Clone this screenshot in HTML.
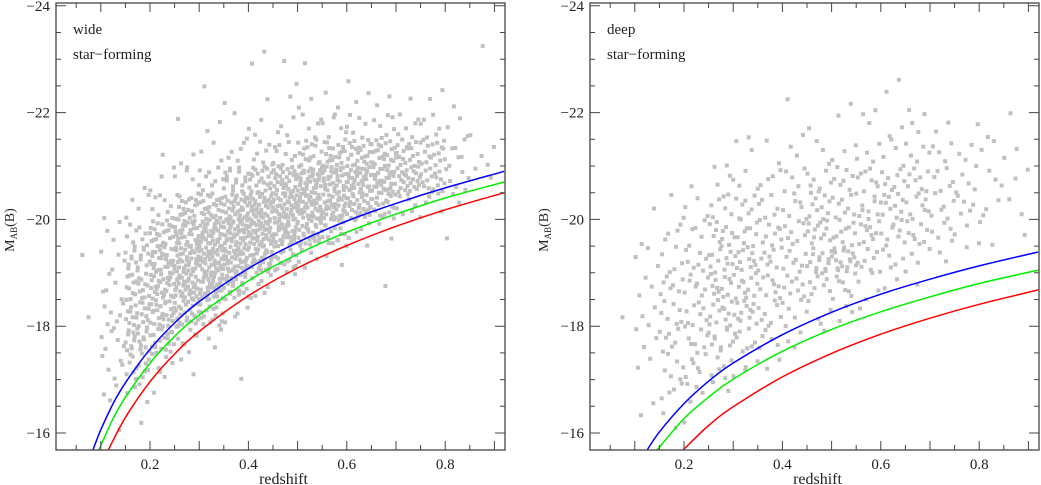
<!DOCTYPE html>
<html><head><meta charset="utf-8"><style>
html,body{margin:0;padding:0;background:#fff;}
svg{display:block;font-family:"Liberation Serif",serif;}
</style></head><body>
<svg id="chart" width="1041" height="485" viewBox="0 0 1041 485" xmlns="http://www.w3.org/2000/svg"></svg>
<script>
// ---- data ----
const zBinStart = [0.05,0.10,0.15,0.20,0.25,0.30,0.35,0.40,0.45,0.50,0.55,0.60,0.65,0.70,0.75,0.80,0.85];
// counts per magnitude bin, row r covers M in [-16-0.5r, -16.5-0.5r]
const wideCounts = [
 [0,0,0,0,1,0,1,0,0,0,0,0,0,0,0],
 [1,3,5,6,6,5,4,3,1,0,0,0,0,0,0],
 [1,4,14,20,21,21,17,8,4,1,0,0,0,0,0],
 [0,1,6,20,25,28,28,22,8,3,1,0,0,0,0],
 [0,0,2,8,25,34,35,31,20,5,2,1,0,0,0],
 [0,0,0,3,17,34,39,36,25,8,3,2,1,0,0],
 [0,0,1,0,4,25,39,39,31,17,5,2,1,0,0],
 [0,0,0,0,0,8,31,39,36,22,7,3,1,1,1],
 [0,0,0,0,0,2,17,36,39,28,9,4,1,2,0],
 [0,0,0,0,0,0,5,28,39,34,17,5,2,1,0],
 [0,0,0,0,0,0,2,17,34,34,20,6,2,0,0],
 [0,0,0,0,0,0,0,6,28,34,22,6,2,1,0],
 [0,0,0,0,0,1,0,2,20,31,22,7,2,0,0],
 [0,0,0,0,0,0,0,0,8,25,20,6,1,0,0],
 [0,0,0,0,0,0,0,0,4,17,17,6,2,0,0],
 [0,0,0,0,0,0,0,1,2,6,6,3,1,0,0],
 [0,0,0,0,0,0,0,0,0,2,3,1,0,0,1]
];
const deepCounts = [
 [0,0,0,0,1,0,0,0,0,0,0,0,0,0,0],
 [1,1,2,3,3,3,3,1,1,0,0,0,0,0,0],
 [2,4,6,7,7,7,5,4,2,0,0,0,0,0,0],
 [1,4,6,8,8,8,7,5,3,1,0,0,0,0,0],
 [0,2,6,10,12,12,12,10,7,3,1,0,0,0,0],
 [0,0,4,8,12,12,12,10,7,4,2,1,0,0,0],
 [0,0,2,5,8,9,9,9,6,4,2,0,0,0,0],
 [0,0,0,3,6,8,8,8,7,5,2,1,1,0,0],
 [0,0,0,1,4,8,14,12,10,7,3,1,0,0,0],
 [0,0,0,0,3,8,18,10,8,7,3,1,1,0,0],
 [0,0,0,0,1,4,8,10,10,8,4,2,1,0,0],
 [0,0,0,0,0,2,5,9,10,8,4,2,1,1,0],
 [0,0,0,0,0,1,4,8,9,8,5,3,1,0,0],
 [0,0,0,0,0,0,2,5,6,6,4,2,0,0,0],
 [0,0,0,0,0,0,1,3,5,5,3,1,0,0,0],
 [0,0,0,0,0,0,0,2,3,3,2,1,0,0,0],
 [0,0,0,0,0,0,0,1,2,2,2,1,0,0,0]
];
const wideBlueZ = [0.084,0.1,0.125,0.15,0.2,0.25,0.3,0.4,0.5,0.6,0.7,0.8,0.92];
const wideBlueM = [-15.68,-16.06,-16.55,-16.94,-17.57,-18.06,-18.46,-19.08,-19.57,-19.97,-20.30,-20.59,-20.90];
const wideGreenZ = [0.096,0.125,0.15,0.2,0.25,0.3,0.4,0.5,0.6,0.7,0.8,0.92];
const wideGreenM = [-15.68,-16.27,-16.67,-17.31,-17.81,-18.21,-18.85,-19.35,-19.76,-20.10,-20.40,-20.70];
const wideRedZ = [0.115,0.15,0.2,0.25,0.3,0.4,0.5,0.6,0.7,0.8,0.92];
const wideRedM = [-15.68,-16.29,-16.96,-17.48,-17.90,-18.57,-19.09,-19.51,-19.87,-20.18,-20.50];
const deepBlueZ = [0.125,0.15,0.2,0.25,0.3,0.4,0.5,0.6,0.7,0.8,0.92];
const deepBlueM = [-15.68,-16.02,-16.55,-16.97,-17.31,-17.84,-18.26,-18.60,-18.88,-19.13,-19.39];
const deepGreenZ = [0.145,0.2,0.25,0.3,0.4,0.5,0.6,0.7,0.8,0.92];
const deepGreenM = [-15.68,-16.27,-16.67,-17.01,-17.53,-17.94,-18.27,-18.55,-18.80,-19.05];
const deepRedZ = [0.198,0.25,0.3,0.4,0.5,0.6,0.7,0.8,0.92];
const deepRedM = [-15.68,-16.14,-16.49,-17.05,-17.49,-17.85,-18.15,-18.41,-18.68];
const xTickLabels = ["0.2","0.4","0.6","0.8"];
const yTickLabels = ["-24","-22","-20","-18","-16"];

// ---- drawing ----
const NS="http://www.w3.org/2000/svg";
const svg=document.getElementById('chart');
function mk(tag,attrs,parent){const e=document.createElementNS(NS,tag);for(const k in attrs)e.setAttribute(k,attrs[k]);(parent||svg).appendChild(e);return e;}
function halton(i,b){let f=1,r=0;while(i>0){f/=b;r+=f*(i%b);i=Math.floor(i/b);}return r;}
function smoothPath(pts){
  let d='M'+pts[0][0].toFixed(1)+','+pts[0][1].toFixed(1);
  for(let i=0;i<pts.length-1;i++){
    const p0=pts[Math.max(0,i-1)],p1=pts[i],p2=pts[i+1],p3=pts[Math.min(pts.length-1,i+2)];
    const c1=[p1[0]+(p2[0]-p0[0])/6,p1[1]+(p2[1]-p0[1])/6];
    const c2=[p2[0]-(p3[0]-p1[0])/6,p2[1]-(p3[1]-p1[1])/6];
    d+=`C${c1[0].toFixed(1)},${c1[1].toFixed(1)} ${c2[0].toFixed(1)},${c2[1].toFixed(1)} ${p2[0].toFixed(1)},${p2[1].toFixed(1)}`;
  }
  return d;
}

function panel(cfg){
  const L=cfg.left,R=cfg.right,T=3,B=450;
  const x0px=cfg.x0px, pxPerZ=492;
  const X=z=>x0px+z*pxPerZ;
  const Y=m=>433+(m+16)*53.4;
  const g=mk('g',{});
  
  
  const cid='clip-'+cfg.name;
  const cp=mk('clipPath',{id:cid},g);
  mk('rect',{x:L,y:T,width:R-L,height:B-T},cp);
  const pg=mk('g',{'clip-path':'url(#'+cid+')',fill:'#c0c0c0'},g);
  
  
  let idx=1;
  zBinStart.forEach((zs,i)=>{
    cfg.counts[i].forEach((c,r)=>{
      for(let k=0;k<c;k++){
        const z=zs+0.05*halton(idx,2);
        const m=-16-0.5*r-0.5*halton(idx,3);
        idx++;
        const p=mk('rect',{x:(X(z)-2).toFixed(1),y:(Y(m)-2).toFixed(1),width:4,height:4},pg);
        
        
      }
    });
  });
  cfg.curves.forEach(cv=>{
    const pts=cv.z.map((z,i)=>[X(z),Y(cv.m[i])]);
    const p=mk('path',{d:smoothPath(pts),fill:'none',stroke:cv.color,'stroke-width':1.5,'clip-path':'url(#'+cid+')'},g);
    
    
  });
  const fr=mk('rect',{x:L,y:T,width:R-L,height:B-T,fill:'none',stroke:'#444','stroke-width':1.3},g);
  
  
  let td='';
  for(let k=1;k<=18;k++){const z=k*0.05;const x=X(z);if(x<L||x>R)continue;const len=(k%2===0)?9:5;
    td+=`M${x.toFixed(1)},${B}v${-len}M${x.toFixed(1)},${T}v${len}`;}
  for(let k=0;k<=16;k++){const m=-16-0.5*k;const y=Y(m);if(y<T||y>B)continue;const len=(k%4===0)?10:5;
    td+=`M${L},${y.toFixed(1)}h${len}M${R},${y.toFixed(1)}h${-len}`;}
  const tk=mk('path',{d:td,stroke:'#444','stroke-width':1,fill:'none'},g);
  
  
  xTickLabels.forEach(s=>{
    const t=mk('text',{x:X(parseFloat(s)),y:469,'text-anchor':'middle','font-size':15,fill:'#222'},g);
    t.textContent=s;
    
    
  });
  yTickLabels.forEach(s=>{
    const t=mk('text',{x:L-6,y:Y(parseFloat(s))+5,'text-anchor':'end','font-size':15,fill:'#222'},g);
    t.textContent=s.replace('-','\u2212');
    
    
  });
  const xt=mk('text',{x:(L+R)/2+3,y:484,'text-anchor':'middle','font-size':16,fill:'#222'},g);
  xt.textContent='redshift';
  
  
  const yt=mk('text',{transform:`translate(${L-42},230) rotate(-90)`,'text-anchor':'middle','font-size':14,fill:'#222'},g);
  
  
  const a=mk('tspan',{},yt);a.textContent='M';
  const b=mk('tspan',{'font-size':9,dy:3},yt);b.textContent='AB';
  const c=mk('tspan',{dy:-3},yt);c.textContent='(B)';
  const l1=mk('text',{x:L+17,y:34,'font-size':15,fill:'#222'},g);
  l1.textContent=cfg.name;
  
  
  const l2=mk('text',{x:L+17,y:59,'font-size':15,fill:'#222'},g);
  l2.textContent='star\u2212forming';
  
  
}
panel({name:'wide',left:56,right:505,x0px:51.6,counts:wideCounts,curves:[
  {z:wideBlueZ,m:wideBlueM,color:'#0000ff',label:'blue-limit-curve'},
  {z:wideGreenZ,m:wideGreenM,color:'#00ee00',label:'green-limit-curve'},
  {z:wideRedZ,m:wideRedM,color:'#ff0000',label:'red-limit-curve'}]});
panel({name:'deep',left:590,right:1039,x0px:585.6,counts:deepCounts,curves:[
  {z:deepBlueZ,m:deepBlueM,color:'#0000ff',label:'blue-limit-curve'},
  {z:deepGreenZ,m:deepGreenM,color:'#00ee00',label:'green-limit-curve'},
  {z:deepRedZ,m:deepRedM,color:'#ff0000',label:'red-limit-curve'}]});
</script>
</body></html>
